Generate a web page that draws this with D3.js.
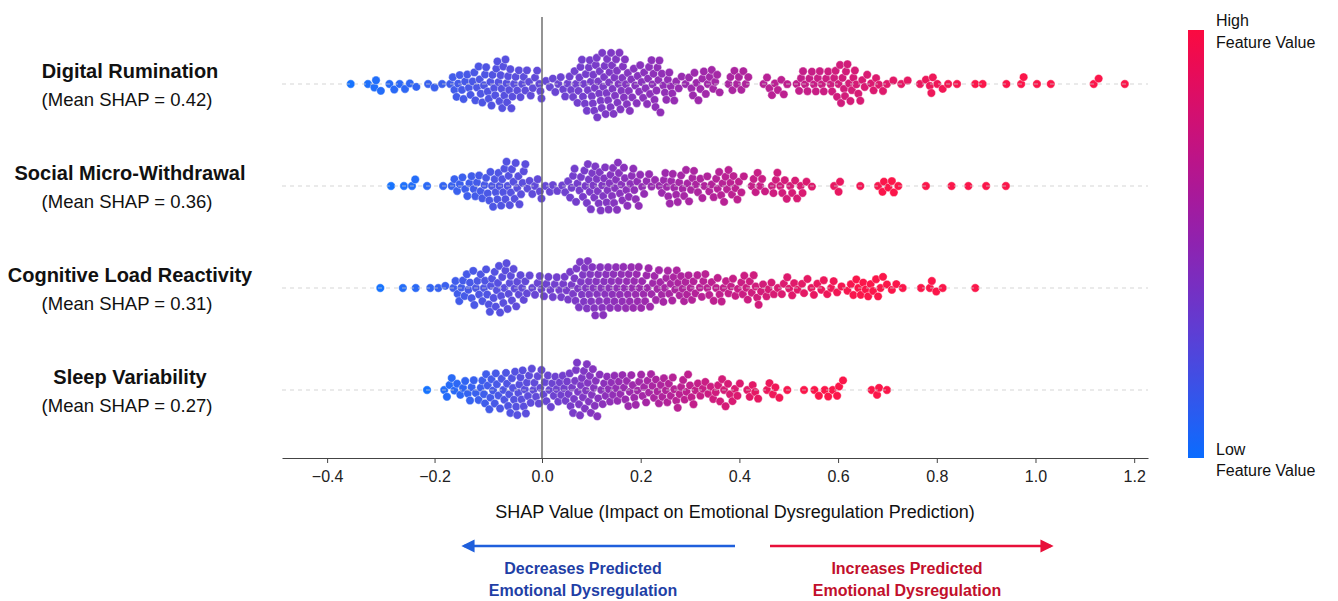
<!DOCTYPE html>
<html>
<head>
<meta charset="utf-8">
<script src="https://cdn.jsdelivr.net/npm/d3@7"></script>
<style>
  body { margin: 0; background: #fff; }
  text { font-family: "Liberation Sans", Arial, sans-serif; }
</style>
</head>
<body>
<svg id="chart"></svg>
<script>
// Features, top to bottom, and their mean |SHAP|
const features = ["Digital Rumination", "Social Micro-Withdrawal", "Cognitive Load Reactivity", "Sleep Variability"];
const meanShap = [0.42, 0.36, 0.31, 0.27];
const tickValues = [-0.4, -0.2, 0.0, 0.2, 0.4, 0.6, 0.8, 1.0, 1.2];

// SHAP values per sample
const digitalRumination = [
  -0.356, -0.324, -0.312, -0.309, -0.300, -0.284, -0.275, -0.265, -0.255, -0.246, -0.234, -0.212, -0.200, -0.186,
  -0.171, -0.166, -0.163, -0.159, -0.156, -0.153, -0.149, -0.146, -0.143, -0.139, -0.136, -0.133, -0.129, -0.126,
  -0.124, -0.121, -0.118, -0.116, -0.114, -0.111, -0.108, -0.106, -0.104, -0.101, -0.099, -0.096,
  -0.094, -0.092, -0.089, -0.087, -0.085, -0.083, -0.081, -0.079, -0.077, -0.075,
  -0.074, -0.072, -0.070, -0.068, -0.066, -0.065, -0.063, -0.061, -0.059, -0.057, -0.055,
  -0.052, -0.049, -0.046, -0.043, -0.040, -0.037, -0.034, -0.031, -0.028, -0.024, -0.021, -0.017,
  -0.013, -0.009, -0.005, -0.003, -0.001,
  0.008, 0.016, 0.022, 0.027, 0.033, 0.038, 0.043, 0.047, 0.052, 0.056, 0.059, 0.063,
  0.066, 0.069, 0.072, 0.074, 0.076, 0.078, 0.081, 0.083, 0.085, 0.087, 0.089, 0.091, 0.093,
  0.095, 0.097, 0.099, 0.101, 0.103, 0.104, 0.106, 0.107, 0.109, 0.111, 0.112, 0.114,
  0.116, 0.117, 0.119, 0.121, 0.122, 0.124, 0.126, 0.127, 0.129, 0.131, 0.132, 0.134,
  0.136, 0.137, 0.139, 0.140, 0.142, 0.143, 0.145, 0.147, 0.148, 0.150, 0.152, 0.153, 0.155,
  0.157, 0.159, 0.161, 0.163, 0.164, 0.166, 0.168, 0.170, 0.172, 0.174, 0.176, 0.178, 0.181, 0.183,
  0.186, 0.189, 0.192, 0.194, 0.197, 0.199, 0.202, 0.205, 0.207, 0.210, 0.213,
  0.215, 0.217, 0.219, 0.222, 0.224, 0.226, 0.228, 0.230, 0.232, 0.234, 0.236, 0.238, 0.240, 0.243,
  0.246, 0.249, 0.252, 0.255, 0.258, 0.261, 0.264, 0.268, 0.272, 0.277, 0.283, 0.291,
  0.298, 0.303, 0.306, 0.309, 0.313, 0.317, 0.321, 0.325, 0.328, 0.332, 0.336, 0.340, 0.344, 0.347, 0.351, 0.355, 0.360,
  0.378, 0.382, 0.386, 0.390, 0.395, 0.399, 0.404, 0.408, 0.413, 0.418,
  0.449, 0.456, 0.461, 0.466, 0.472, 0.478, 0.485, 0.490, 0.497,
  0.516, 0.521, 0.525, 0.529, 0.533, 0.538, 0.542, 0.547, 0.551, 0.555, 0.559, 0.563, 0.567, 0.571, 0.576, 0.580,
  0.585, 0.588, 0.592, 0.595, 0.598, 0.601, 0.604, 0.606, 0.609, 0.612, 0.614, 0.616, 0.619, 0.622,
  0.625, 0.628, 0.631, 0.634, 0.637, 0.641, 0.645, 0.649, 0.654, 0.659,
  0.667, 0.672, 0.677, 0.683, 0.691, 0.699, 0.712, 0.728, 0.741,
  0.766, 0.778, 0.786, 0.789, 0.792, 0.801, 0.812, 0.823, 0.841,
  0.878, 0.893, 0.941, 0.971, 0.976, 1.003, 1.031, 1.118, 1.128, 1.181
];

const socialWithdrawal = [
  -0.281, -0.257, -0.242, -0.236, -0.214, -0.184, -0.168,
  -0.163, -0.158, -0.153, -0.148, -0.143, -0.139, -0.135, -0.131, -0.127, -0.124, -0.121, -0.117,
  -0.114, -0.111, -0.107, -0.104, -0.101, -0.098, -0.096, -0.093, -0.091, -0.088, -0.086,
  -0.083, -0.081, -0.079, -0.076, -0.074, -0.072, -0.070, -0.068, -0.066,
  -0.064, -0.062, -0.060, -0.058, -0.056, -0.053, -0.051, -0.049, -0.046,
  -0.044, -0.042, -0.039, -0.036, -0.034, -0.031, -0.027, -0.023, -0.018, -0.013, -0.008, -0.004, -0.001,
  0.007, 0.016, 0.022, 0.031, 0.041, 0.047, 0.053, 0.057, 0.060, 0.063, 0.066, 0.069, 0.072, 0.076, 0.079, 0.083,
  0.086, 0.088, 0.091, 0.093, 0.095, 0.097, 0.099, 0.102, 0.104, 0.106, 0.108, 0.111, 0.113,
  0.115, 0.117, 0.119, 0.122, 0.124, 0.126, 0.128, 0.131, 0.133, 0.135, 0.137, 0.139, 0.142, 0.144,
  0.146, 0.148, 0.150, 0.152, 0.154, 0.156, 0.158, 0.161, 0.163, 0.166, 0.168, 0.171, 0.173,
  0.176, 0.179, 0.182, 0.185, 0.187, 0.190, 0.193, 0.196, 0.199, 0.203,
  0.207, 0.212, 0.217, 0.222, 0.229, 0.238, 0.243,
  0.247, 0.250, 0.253, 0.256, 0.259, 0.262, 0.265, 0.268, 0.272, 0.275, 0.278, 0.282, 0.285, 0.288, 0.292,
  0.295, 0.298, 0.302, 0.305, 0.308, 0.312, 0.316, 0.321, 0.325, 0.329, 0.335, 0.339, 0.344, 0.348,
  0.353, 0.356, 0.359, 0.363, 0.366, 0.369, 0.372, 0.375, 0.378, 0.382, 0.385, 0.388, 0.392, 0.396, 0.399, 0.404, 0.409,
  0.425, 0.429, 0.433, 0.437, 0.442, 0.446, 0.452,
  0.466, 0.469, 0.474, 0.477, 0.483, 0.487, 0.492, 0.496, 0.503, 0.507, 0.513, 0.517, 0.524, 0.528, 0.536, 0.547,
  0.592, 0.601, 0.604, 0.645, 0.681, 0.690, 0.693, 0.702, 0.709, 0.713, 0.722,
  0.778, 0.830, 0.864, 0.900, 0.940
];

const cognitiveLoad = [
  -0.301, -0.259, -0.235, -0.208, -0.193, -0.180, -0.165,
  -0.161, -0.157, -0.154, -0.150, -0.147, -0.144, -0.140, -0.137, -0.134, -0.131, -0.128, -0.126,
  -0.123, -0.120, -0.117, -0.114, -0.111, -0.108, -0.106, -0.104, -0.102, -0.099, -0.097,
  -0.095, -0.093, -0.090, -0.088, -0.086, -0.084, -0.082, -0.080, -0.078, -0.076,
  -0.074, -0.072, -0.070, -0.068, -0.066, -0.064, -0.062, -0.060, -0.058, -0.056,
  -0.053, -0.051, -0.048, -0.046, -0.043, -0.040, -0.037, -0.034, -0.031, -0.028,
  -0.023, -0.018, -0.013, -0.008, -0.004, -0.001,
  0.004, 0.009, 0.013, 0.017, 0.022, 0.026, 0.030, 0.035, 0.039, 0.043, 0.046, 0.050, 0.053, 0.057, 0.060, 0.063,
  0.066, 0.068, 0.070, 0.073, 0.075, 0.077, 0.079, 0.081, 0.083, 0.085, 0.087, 0.089, 0.091, 0.093, 0.095,
  0.096, 0.098, 0.100, 0.102, 0.104, 0.106, 0.108, 0.110, 0.112, 0.114, 0.116, 0.118, 0.120, 0.122, 0.124,
  0.126, 0.128, 0.130, 0.132, 0.134, 0.136, 0.138, 0.141, 0.143, 0.145, 0.147, 0.150, 0.152, 0.154,
  0.156, 0.158, 0.161, 0.163, 0.165, 0.167, 0.170, 0.172, 0.174, 0.176, 0.178, 0.181, 0.183,
  0.185, 0.187, 0.190, 0.192, 0.194, 0.196, 0.198, 0.201, 0.203, 0.206, 0.209, 0.212, 0.214,
  0.216, 0.219, 0.222, 0.225, 0.228, 0.231, 0.234, 0.237, 0.240, 0.243, 0.246, 0.249,
  0.252, 0.255, 0.258, 0.261, 0.264, 0.267, 0.270, 0.273, 0.276, 0.279, 0.282, 0.285, 0.288, 0.291,
  0.294, 0.297, 0.301, 0.304, 0.307, 0.311, 0.315, 0.320, 0.324, 0.327, 0.331, 0.335, 0.339, 0.344, 0.348,
  0.353, 0.356, 0.360, 0.364, 0.368, 0.373, 0.378, 0.383, 0.387, 0.392, 0.397,
  0.404, 0.407, 0.410, 0.414, 0.417, 0.421, 0.425, 0.429, 0.433, 0.436, 0.439, 0.444, 0.448,
  0.455, 0.459, 0.465, 0.470, 0.478, 0.486, 0.490, 0.497, 0.501, 0.507, 0.511, 0.518, 0.527, 0.531, 0.538,
  0.546, 0.551, 0.558, 0.566, 0.571, 0.578, 0.586, 0.591, 0.598, 0.607, 0.619,
  0.626, 0.631, 0.637, 0.641, 0.646, 0.651, 0.656, 0.661, 0.666, 0.671, 0.677, 0.681, 0.686, 0.691,
  0.699, 0.709, 0.718, 0.731, 0.768, 0.786, 0.790, 0.799, 0.812, 0.878
];

const sleepVariability = [
  -0.214,
  -0.182, -0.177, -0.172, -0.168, -0.163, -0.158, -0.152, -0.147, -0.143, -0.138, -0.134, -0.131, -0.127, -0.123, -0.118,
  -0.114, -0.111, -0.108, -0.106, -0.104, -0.101, -0.098, -0.096, -0.094, -0.091, -0.088, -0.086,
  -0.084, -0.081, -0.078, -0.075, -0.072, -0.070, -0.067,
  -0.065, -0.063, -0.061, -0.059, -0.056, -0.054, -0.052, -0.050, -0.048, -0.046,
  -0.044, -0.042, -0.040, -0.038, -0.036, -0.034, -0.032, -0.030, -0.028, -0.026,
  -0.024, -0.021, -0.019, -0.016, -0.014, -0.011, -0.008, -0.006, -0.003, -0.001,
  0.003, 0.006, 0.009, 0.012, 0.015, 0.018, 0.021, 0.024, 0.027, 0.030, 0.033, 0.036, 0.039, 0.042, 0.045, 0.048, 0.051,
  0.054, 0.056, 0.058, 0.061, 0.063, 0.065, 0.067, 0.069, 0.071, 0.073,
  0.075, 0.077, 0.079, 0.081, 0.083, 0.085, 0.087, 0.089, 0.091, 0.093, 0.095,
  0.097, 0.099, 0.101, 0.103, 0.105, 0.107, 0.109, 0.112, 0.114,
  0.117, 0.120, 0.123, 0.126, 0.129, 0.132, 0.135, 0.138, 0.141, 0.144,
  0.147, 0.150, 0.153, 0.156, 0.159, 0.163, 0.166, 0.169, 0.172, 0.175, 0.178, 0.181, 0.184,
  0.187, 0.190, 0.194, 0.197, 0.201, 0.204, 0.207, 0.211, 0.214,
  0.217, 0.221, 0.224, 0.227, 0.231, 0.234, 0.237, 0.241, 0.244, 0.247, 0.251, 0.254, 0.257, 0.261,
  0.265, 0.268, 0.272, 0.275, 0.279, 0.282, 0.286, 0.289, 0.293, 0.296, 0.300, 0.303, 0.307, 0.311,
  0.316, 0.321, 0.326, 0.331, 0.337, 0.342, 0.347, 0.352, 0.357, 0.361, 0.365, 0.369, 0.372,
  0.377, 0.381, 0.386, 0.391, 0.396, 0.401, 0.416, 0.421, 0.427, 0.432, 0.438,
  0.456, 0.461, 0.468, 0.473, 0.481, 0.497,
  0.531, 0.552, 0.561, 0.573, 0.580, 0.589, 0.598, 0.602, 0.610, 0.668, 0.679, 0.683, 0.699
];

const rowValues = [digitalRumination, socialWithdrawal, cognitiveLoad, sleepVariability];

// ---- layout ----
const width = 1338, height = 601;
const axisY = 458;
const dotR = 4.2, dotGap = 7.3;

const svg = d3.select("#chart")
  .attr("width", width)
  .attr("height", height)
  .style("display", "block");

// the negative side of the axis is drawn a bit wider than the positive side
const x = d3.scaleLinear()
  .domain([-0.484, 0, 1.228])
  .range([282, 542, 1148]);

const y = d3.scalePoint()
  .domain(features)
  .range([84, 390]);

const colorInterp = d3.interpolateRgbBasis(["#0a6cff", "#5544dc", "#8e1fb2", "#c8107e", "#fb0a40"]);

// greedy beeswarm: each dot goes to the free slot nearest the row line
function swarm(values) {
  const pts = values.map(v => ({ v: v, x: x(v) })).sort((a, b) => a.x - b.x);
  const placed = [];
  const d2 = dotGap * dotGap;
  pts.forEach((p, i) => {
    const near = placed.filter(q => p.x - q.x < dotGap);
    const cands = [0];
    near.forEach(q => {
      const dy = Math.sqrt(d2 - (p.x - q.x) ** 2);
      cands.push(q.y + dy, q.y - dy);
    });
    const flip = i % 2 ? 1 : -1;
    cands.sort((a, b) => (Math.abs(a) - Math.abs(b)) || (a - b) * flip);
    for (const c of cands) {
      if (near.every(q => (p.x - q.x) ** 2 + (c - q.y) ** 2 >= d2 - 0.01)) { p.y = c; break; }
    }
    placed.push(p);
  });
  return pts;
}

// dots
features.forEach((f, i) => {
  const vals = rowValues[i];
  const [lo, hi] = d3.extent(vals);
  const color = d3.scaleSequential(colorInterp)
    .domain([lo, lo + 0.8 * (hi - lo)])
    .clamp(true);
  svg.append("g")
    .selectAll("circle")
    .data(swarm(vals))
    .enter()
    .append("circle")
    .attr("cx", d => d.x)
    .attr("cy", d => y(f) + d.y)
    .attr("r", dotR)
    .attr("fill", d => color(d.v))
    .attr("stroke", "#fff")
    .attr("stroke-width", 0.4)
    .attr("fill-opacity", 0.95);
});

// row guide lines (drawn faintly over the dots)
svg.append("g")
  .selectAll("line")
  .data(features)
  .enter()
  .append("line")
  .attr("x1", x.range()[0])
  .attr("x2", x.range()[2])
  .attr("y1", d => y(d))
  .attr("y2", d => y(d))
  .attr("stroke", "#c8c8c8")
  .attr("stroke-opacity", 0.75)
  .attr("stroke-width", 1.2)
  .attr("stroke-dasharray", "4,4");

// zero line
svg.append("line")
  .attr("x1", x(0)).attr("x2", x(0))
  .attr("y1", 17).attr("y2", axisY)
  .attr("stroke", "#666")
  .attr("stroke-width", 1.4);

// feature labels
const labels = svg.append("g")
  .selectAll("g")
  .data(features)
  .enter()
  .append("g")
  .attr("transform", d => `translate(130, ${y(d)})`);

labels.append("text")
  .attr("y", -6)
  .attr("text-anchor", "middle")
  .style("font-size", "20px")
  .style("font-weight", "bold")
  .attr("fill", "#111")
  .text(d => d);

labels.append("text")
  .attr("x", -3)
  .attr("y", 22)
  .attr("text-anchor", "middle")
  .style("font-size", "18.5px")
  .attr("fill", "#111")
  .text((d, i) => `(Mean SHAP = ${meanShap[i].toFixed(2)})`);

// x axis
const xAxis = svg.append("g")
  .attr("transform", `translate(0, ${axisY})`)
  .call(d3.axisBottom(x)
    .tickValues(tickValues)
    .tickFormat(d3.format(".1f"))
    .tickSize(5)
    .tickSizeOuter(0)
    .tickPadding(8));

xAxis.select(".domain").attr("stroke", "#444").attr("stroke-width", 1.2);
xAxis.selectAll(".tick line").attr("stroke", "#444");
xAxis.selectAll(".tick text")
  .style("font-size", "16px")
  .style("font-family", "'Liberation Sans', Arial, sans-serif")
  .attr("fill", "#222");

svg.append("text")
  .attr("x", 735)
  .attr("y", 518)
  .attr("text-anchor", "middle")
  .style("font-size", "18px")
  .attr("fill", "#111")
  .text("SHAP Value (Impact on Emotional Dysregulation Prediction)");

// direction arrows
const defs = svg.append("defs");
[["arrowBlue", "#1f5fdc"], ["arrowRed", "#e8103a"]].forEach(([id, c]) => {
  defs.append("marker")
    .attr("id", id)
    .attr("viewBox", "0 0 10 10")
    .attr("refX", 8).attr("refY", 5)
    .attr("markerWidth", 5.5).attr("markerHeight", 5.5)
    .attr("orient", "auto-start-reverse")
    .append("path")
    .attr("d", "M0,0 L10,5 L0,10 Z")
    .attr("fill", c);
});

svg.append("line")
  .attr("x1", 735).attr("x2", 464)
  .attr("y1", 546).attr("y2", 546)
  .attr("stroke", "#1f5fdc").attr("stroke-width", 2.4)
  .attr("marker-end", "url(#arrowBlue)");

svg.append("line")
  .attr("x1", 770).attr("x2", 1051)
  .attr("y1", 546).attr("y2", 546)
  .attr("stroke", "#e8103a").attr("stroke-width", 2.4)
  .attr("marker-end", "url(#arrowRed)");

const captions = [
  { cx: 583, color: "#1f3fa6", lines: ["Decreases Predicted", "Emotional Dysregulation"] },
  { cx: 907, color: "#c20f2c", lines: ["Increases Predicted", "Emotional Dysregulation"] }
];
captions.forEach(c => {
  c.lines.forEach((t, j) => {
    svg.append("text")
      .attr("x", c.cx)
      .attr("y", 574 + j * 22)
      .attr("text-anchor", "middle")
      .style("font-size", "16px")
      .style("font-weight", "bold")
      .attr("fill", c.color)
      .text(t);
  });
});

// colour bar
const grad = defs.append("linearGradient")
  .attr("id", "featGrad")
  .attr("x1", 0).attr("y1", 1).attr("x2", 0).attr("y2", 0);
d3.range(0, 1.0001, 0.1).forEach(t => {
  grad.append("stop").attr("offset", t).attr("stop-color", colorInterp(t));
});

svg.append("rect")
  .attr("x", 1188).attr("y", 30)
  .attr("width", 16).attr("height", 428)
  .attr("fill", "url(#featGrad)");

[["High", 26], ["Feature Value", 48], ["Low", 455], ["Feature Value", 476]].forEach(([t, yy]) => {
  svg.append("text")
    .attr("x", 1216).attr("y", yy)
    .style("font-size", "16px")
    .attr("fill", "#111")
    .text(t);
});
</script>
</body>
</html>
